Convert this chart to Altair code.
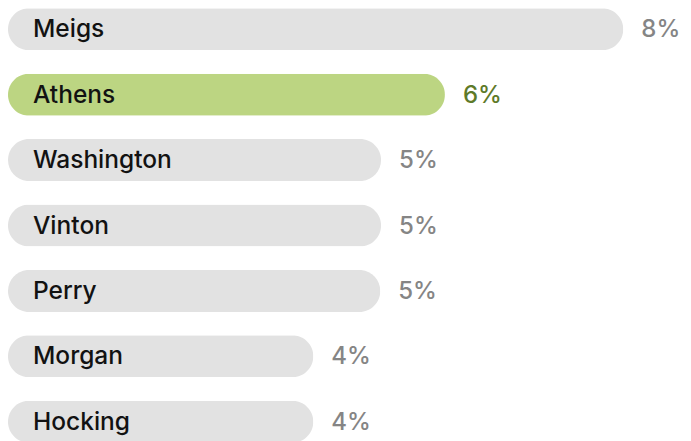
import altair as alt
import pandas as pd

counties = ["Meigs", "Athens", "Washington", "Vinton", "Perry", "Morgan", "Hocking"]
values = [7.9, 5.61, 4.79, 4.79, 4.78, 3.92, 3.92]
pct_labels = ["8%", "6%", "5%", "5%", "5%", "4%", "4%"]
highlight = ["no", "yes", "no", "no", "no", "no", "no"]

df = pd.DataFrame({
    "county": counties,
    "value": values,
    "pct": pct_labels,
    "hl": highlight,
})

FONT = "Inter"

y = alt.Y("county:N", sort=None, axis=None,
          scale=alt.Scale(type="point", padding=0.31))
x = alt.X("value:Q", axis=None, scale=alt.Scale(domain=[0, 8.5], nice=False, zero=True))

base = alt.Chart(df).encode(y=y)

bars = base.mark_bar(size=42, cornerRadius=21).encode(
    x=x,
    color=alt.Color("hl:N", legend=None,
                    scale=alt.Scale(domain=["no", "yes"], range=["#e2e2e2", "#bcd582"])),
)

names = base.mark_text(align="left", baseline="middle", font=FONT, fontSize=24.5,
                       fontWeight=500, color="#121212", dy=1).encode(
    x=alt.value(25),
    text="county:N",
)

pcts = base.mark_text(align="left", baseline="middle", font=FONT, fontSize=24,
                      fontWeight=500, dx=18, dy=1).encode(
    x=x,
    text="pct:N",
    color=alt.Color("hl:N", legend=None,
                    scale=alt.Scale(domain=["no", "yes"], range=["#858585", "#5e7a29"])),
)

chart = alt.layer(bars, names, pcts).resolve_scale(color="independent").properties(
    width=662, height=433, padding=0
).configure_view(stroke=None)

chart.save("out.html", embed_options={"renderer": "svg", "actions": False})
